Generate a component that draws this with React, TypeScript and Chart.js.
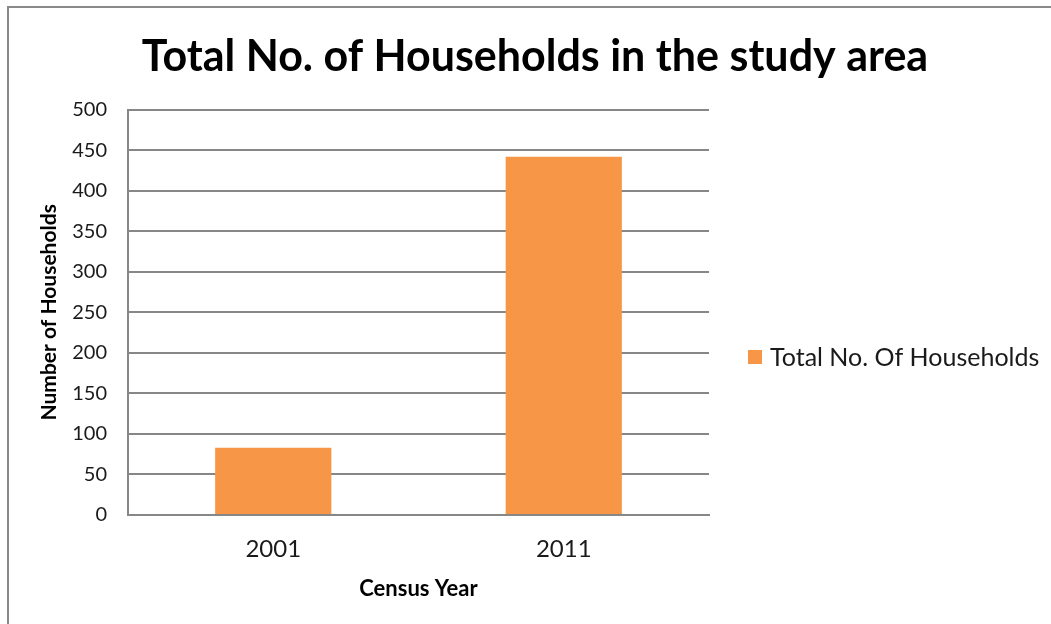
import React, { useEffect, useRef } from "react";
import { Chart, registerables } from "chart.js";

Chart.register(...registerables);

const categories = ["2001", "2011"];
const households = [83, 442];
const seriesLabel = "Total No. Of Households";
const titleText = "Total No. of Households in the study area";
const yTitle = "Number of Households";
const xTitle = "Census Year";

const FONT = "Lato, 'Open Sans', sans-serif";
const GRID = "#878787";

const sideLegend = {
  id: "sideLegend",
  afterDraw(chart: any) {
    const ctx = chart.ctx;
    const ds = chart.data.datasets[0];
    const x = chart.chartArea.right + 39;
    const y = 357;
    ctx.save();
    ctx.fillStyle = ds.backgroundColor;
    ctx.fillRect(x, y - 7, 14, 14);
    ctx.fillStyle = "#1a1a1a";
    ctx.font = `25px ${FONT}`;
    ctx.textBaseline = "middle";
    ctx.textAlign = "left";
    ctx.fillText(ds.label, x + 22, y + 1);
    ctx.restore();
  },
};

export default function App() {
  const ref = useRef<HTMLCanvasElement | null>(null);

  useEffect(() => {
    if (!ref.current) return;
    const chart = new Chart(ref.current, {
      type: "bar",
      data: {
        labels: categories,
        datasets: [
          {
            label: seriesLabel,
            data: households,
            backgroundColor: "#F79646",
            borderWidth: 0,
            categoryPercentage: 0.4,
            barPercentage: 1,
          },
        ],
      },
      plugins: [sideLegend],
      options: {
        animation: false,
        responsive: false,
        maintainAspectRatio: false,
        layout: { padding: { left: 19, right: 0, top: 0, bottom: 22 } },
        plugins: {
          title: {
            display: true,
            text: titleText,
            color: "#000",
            font: { family: FONT, size: 43, weight: "bold" },
            padding: { top: 31, bottom: 27 },
          },
          legend: { display: false },
          tooltip: { enabled: false },
        },
        scales: {
          x: {
            grid: { display: false, drawTicks: false },
            border: { color: GRID, width: 2 },
            ticks: { color: "#1a1a1a", font: { family: FONT, size: 24 }, padding: 20 },
            title: {
              display: true,
              text: xTitle,
              color: "#000",
              font: { family: FONT, size: 22, weight: "bold" },
              padding: { top: 10, bottom: 0 },
            },
            afterFit: (s: any) => {
              s.height = 87;
            },
          },
          y: {
            min: 0,
            max: 500,
            ticks: {
              stepSize: 50,
              color: "#1a1a1a",
              font: { family: FONT, size: 20 },
              padding: 21,
            },
            grid: { color: GRID, lineWidth: 2, drawTicks: false },
            border: { color: GRID, width: 2 },
            title: {
              display: true,
              text: yTitle,
              color: "#000",
              font: { family: FONT, size: 21, weight: "bold" },
              padding: { top: 18, bottom: 12 },
            },
            afterFit: (s: any) => {
              s.width = 109;
            },
          },
          spacer: {
            type: "linear",
            position: "right",
            display: true,
            grid: { display: false, drawTicks: false },
            border: { display: false },
            ticks: { display: false },
            afterFit: (s: any) => {
              s.width = 342;
            },
          },
        },
      },
    });
    return () => chart.destroy();
  }, []);

  return (
    <div style={{ position: "fixed", left: 0, top: 0, width: 1051, height: 624, background: "#fff", overflow: "hidden" }}>
      <div
        style={{
          position: "absolute",
          left: 7,
          top: 6,
          width: 1100,
          height: 700,
          borderLeft: "2px solid #8a8a8a",
          borderTop: "2px solid #8a8a8a",
        }}
      />
      <canvas ref={ref} width={1051} height={624} style={{ position: "absolute", left: 0, top: 0 }} />
    </div>
  );
}
